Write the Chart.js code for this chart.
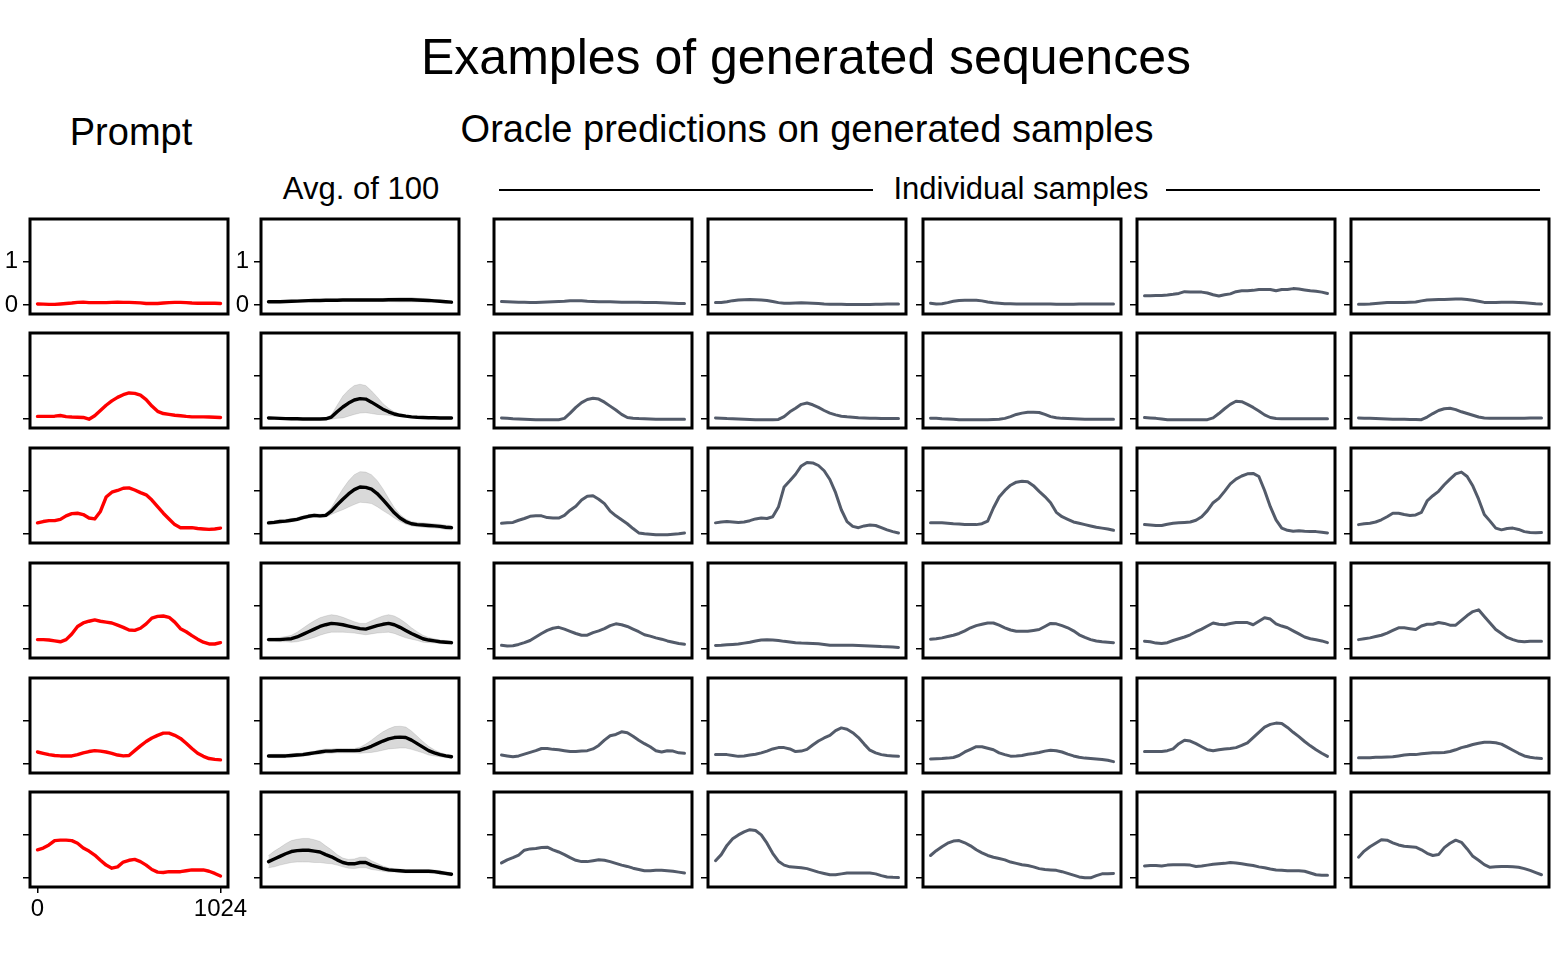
<!DOCTYPE html>
<html>
<head>
<meta charset="utf-8">
<title>Examples of generated sequences</title>
<script src="https://cdn.jsdelivr.net/npm/chart.js@4.4.1/dist/chart.umd.min.js"></script>
<style>
    body { margin: 0; background: #fff; width: 1568px; height: 956px; position: relative; overflow: hidden;
           font-family: "Liberation Sans", Arial, Helvetica, sans-serif; color: #000; }
    .txt { position: absolute; transform: translate(-50%, -50%); line-height: 1; white-space: nowrap; }
    .rule { position: absolute; height: 0; border-top: 2px solid #000; }
    canvas { position: absolute; }
</style>
</head>
<body>
<div class="txt" style="left:806px; top:57px; font-size:50px;">Examples of generated sequences</div>
<div class="txt" style="left:131px; top:132px; font-size:38px;">Prompt</div>
<div class="txt" style="left:807px; top:129px; font-size:38px;">Oracle predictions on generated samples</div>
<div class="txt" style="left:361px; top:188px; font-size:31px;">Avg. of 100</div>
<div class="txt" style="left:1021px; top:188px; font-size:31px;">Individual samples</div>
<div class="rule" style="left:499px; top:189px; width:374px;"></div>
<div class="rule" style="left:1166px; top:189px; width:374px;"></div>

<script>
// sequence positions (shared by every panel)
const positions = [0, 32, 64, 96, 128, 160, 192, 224, 256, 288, 320, 352, 384, 416, 448, 480, 512,
                   544, 576, 608, 640, 672, 704, 736, 768, 800, 832, 864, 896, 928, 960, 992, 1024];
const yTicks = [0, 1];
const xTicks = [0, 1024];

// Row 1
const row1Prompt = [0.03,0.025,0.02,0.02,0.03,0.04,0.05,0.065,0.07,0.06,0.06,0.06,0.06,0.065,0.07,0.065,0.065,0.06,0.055,0.04,0.04,0.04,0.05,0.06,0.065,0.065,0.06,0.05,0.045,0.045,0.045,0.045,0.04];
const row1Avg = [0.08,0.08,0.08,0.085,0.09,0.095,0.1,0.105,0.11,0.11,0.115,0.115,0.115,0.12,0.12,0.12,0.12,0.12,0.12,0.12,0.12,0.125,0.125,0.125,0.125,0.125,0.12,0.115,0.11,0.1,0.09,0.08,0.07];
const row1Spread = [0.02,0.02,0.02,0.02,0.02,0.02,0.025,0.025,0.025,0.025,0.025,0.025,0.025,0.025,0.025,0.025,0.03,0.03,0.03,0.03,0.035,0.04,0.045,0.05,0.05,0.05,0.045,0.04,0.035,0.03,0.025,0.02,0.02];
const row1Samples = [
    [0.085,0.08,0.075,0.07,0.07,0.065,0.065,0.07,0.075,0.08,0.085,0.09,0.1,0.105,0.1,0.09,0.085,0.08,0.08,0.08,0.075,0.07,0.07,0.07,0.07,0.065,0.065,0.06,0.055,0.05,0.045,0.04,0.04],
    [0.06,0.065,0.08,0.105,0.12,0.125,0.13,0.125,0.12,0.11,0.085,0.06,0.045,0.045,0.05,0.055,0.05,0.045,0.04,0.03,0.025,0.02,0.02,0.015,0.015,0.015,0.015,0.015,0.02,0.025,0.03,0.03,0.03],
    [0.045,0.03,0.035,0.06,0.09,0.11,0.115,0.115,0.115,0.1,0.075,0.055,0.045,0.035,0.035,0.03,0.03,0.03,0.03,0.03,0.03,0.03,0.025,0.025,0.025,0.025,0.03,0.03,0.03,0.03,0.03,0.03,0.03],
    [0.215,0.215,0.22,0.225,0.235,0.25,0.27,0.31,0.3,0.3,0.3,0.28,0.24,0.21,0.24,0.26,0.31,0.33,0.33,0.34,0.36,0.36,0.36,0.33,0.36,0.36,0.38,0.37,0.35,0.33,0.32,0.3,0.27],
    [0.02,0.025,0.03,0.04,0.05,0.06,0.065,0.065,0.065,0.07,0.075,0.1,0.12,0.125,0.13,0.13,0.135,0.14,0.14,0.13,0.115,0.09,0.065,0.06,0.065,0.07,0.07,0.07,0.065,0.055,0.045,0.035,0.03]
];

// Row 2
const row2Prompt = [0.065,0.065,0.065,0.07,0.085,0.06,0.05,0.045,0.04,0.0,0.08,0.2,0.32,0.42,0.5,0.56,0.6,0.59,0.55,0.45,0.3,0.18,0.13,0.11,0.09,0.08,0.065,0.055,0.055,0.055,0.05,0.045,0.04];
const row2Avg = [0.03,0.025,0.02,0.015,0.01,0.01,0.005,0.005,0.005,0.005,0.01,0.05,0.17,0.28,0.37,0.44,0.47,0.46,0.39,0.31,0.23,0.17,0.12,0.09,0.07,0.055,0.045,0.04,0.035,0.035,0.03,0.03,0.03];
const row2Spread = [0.015,0.015,0.015,0.015,0.015,0.015,0.015,0.015,0.015,0.015,0.02,0.05,0.15,0.25,0.3,0.33,0.33,0.31,0.26,0.2,0.13,0.08,0.05,0.03,0.02,0.015,0.015,0.015,0.015,0.015,0.015,0.015,0.015];
const row2Samples = [
    [0.03,0.02,0.01,0.005,0.0,-0.005,-0.01,-0.01,-0.01,-0.01,-0.01,0.02,0.14,0.27,0.38,0.45,0.48,0.46,0.39,0.3,0.21,0.11,0.04,0.025,0.015,0.01,0.005,0.0,0.0,0.0,0.0,0.0,0.0],
    [0.03,0.025,0.015,0.01,0.005,0.0,-0.005,-0.01,-0.01,-0.01,-0.01,-0.005,0.06,0.17,0.25,0.34,0.37,0.33,0.27,0.2,0.14,0.1,0.07,0.055,0.045,0.035,0.03,0.025,0.02,0.015,0.015,0.015,0.015],
    [0.025,0.02,0.01,0.005,0.0,-0.01,-0.01,-0.01,-0.01,-0.01,-0.01,-0.005,0.0,0.02,0.06,0.11,0.14,0.16,0.16,0.155,0.11,0.06,0.035,0.02,0.015,0.01,0.005,0.0,0.0,0.0,0.0,0.0,0.0],
    [0.04,0.03,0.02,0.005,-0.01,-0.01,-0.01,-0.01,-0.01,-0.01,-0.01,-0.01,0.03,0.13,0.24,0.34,0.41,0.4,0.34,0.27,0.19,0.1,0.04,0.015,0.01,0.01,0.01,0.01,0.01,0.01,0.01,0.01,0.01],
    [0.03,0.025,0.02,0.015,0.01,0.005,0.0,0.0,0.0,-0.005,-0.005,-0.01,0.05,0.13,0.2,0.24,0.25,0.22,0.17,0.13,0.09,0.05,0.03,0.02,0.02,0.02,0.02,0.02,0.025,0.025,0.03,0.03,0.03]
];

// Row 3
const row3Prompt = [0.26,0.29,0.31,0.31,0.34,0.42,0.47,0.48,0.45,0.37,0.35,0.52,0.85,0.96,1.0,1.05,1.06,1.01,0.95,0.9,0.78,0.63,0.48,0.35,0.22,0.15,0.15,0.15,0.13,0.12,0.11,0.12,0.14];
const row3Avg = [0.26,0.27,0.29,0.3,0.32,0.34,0.38,0.41,0.43,0.42,0.43,0.53,0.67,0.8,0.92,1.02,1.08,1.07,1.03,0.93,0.79,0.64,0.49,0.37,0.29,0.24,0.22,0.21,0.2,0.19,0.18,0.16,0.15];
const row3Spread = [0.04,0.04,0.04,0.04,0.04,0.04,0.04,0.04,0.04,0.04,0.04,0.08,0.16,0.24,0.3,0.34,0.35,0.35,0.33,0.3,0.25,0.18,0.12,0.08,0.06,0.05,0.05,0.05,0.05,0.05,0.05,0.05,0.05];
const row3Samples = [
    [0.25,0.26,0.27,0.32,0.36,0.41,0.42,0.42,0.38,0.37,0.37,0.43,0.55,0.64,0.78,0.87,0.88,0.8,0.7,0.53,0.42,0.33,0.24,0.13,0.03,0.01,0.0,-0.01,-0.01,-0.01,0.0,0.01,0.03],
    [0.26,0.28,0.29,0.28,0.27,0.28,0.31,0.35,0.37,0.36,0.4,0.62,1.08,1.22,1.37,1.56,1.64,1.63,1.57,1.45,1.25,0.95,0.56,0.29,0.18,0.15,0.19,0.21,0.2,0.15,0.1,0.06,0.03],
    [0.26,0.26,0.26,0.25,0.24,0.235,0.22,0.22,0.22,0.24,0.3,0.6,0.85,1.0,1.12,1.19,1.21,1.2,1.11,0.98,0.86,0.72,0.5,0.4,0.34,0.28,0.25,0.22,0.19,0.16,0.14,0.12,0.09],
    [0.22,0.21,0.2,0.2,0.23,0.25,0.26,0.27,0.28,0.32,0.4,0.54,0.72,0.82,0.98,1.15,1.26,1.33,1.38,1.39,1.32,1.0,0.63,0.33,0.14,0.09,0.07,0.08,0.07,0.065,0.06,0.045,0.03],
    [0.22,0.24,0.25,0.28,0.33,0.4,0.48,0.48,0.45,0.43,0.44,0.5,0.76,0.88,0.98,1.13,1.26,1.38,1.42,1.32,1.1,0.8,0.45,0.3,0.14,0.1,0.13,0.14,0.11,0.06,0.04,0.035,0.04]
];

// Row 4
const row4Prompt = [0.22,0.22,0.21,0.19,0.17,0.22,0.35,0.52,0.6,0.64,0.67,0.64,0.62,0.6,0.55,0.5,0.44,0.43,0.48,0.58,0.71,0.75,0.76,0.73,0.62,0.47,0.4,0.31,0.23,0.16,0.12,0.12,0.15];
const row4Avg = [0.22,0.22,0.22,0.23,0.24,0.28,0.34,0.4,0.46,0.52,0.56,0.59,0.58,0.56,0.53,0.5,0.47,0.46,0.5,0.54,0.57,0.59,0.56,0.5,0.43,0.36,0.3,0.24,0.21,0.19,0.17,0.16,0.15];
const row4Spread = [0.04,0.04,0.05,0.06,0.08,0.11,0.14,0.17,0.19,0.2,0.2,0.2,0.19,0.17,0.15,0.13,0.12,0.13,0.15,0.17,0.19,0.2,0.2,0.19,0.17,0.13,0.1,0.08,0.06,0.05,0.04,0.04,0.04];
const row4Samples = [
    [0.09,0.075,0.08,0.11,0.15,0.2,0.28,0.36,0.43,0.48,0.5,0.46,0.41,0.36,0.32,0.32,0.38,0.42,0.47,0.54,0.58,0.56,0.52,0.46,0.4,0.33,0.3,0.26,0.23,0.19,0.16,0.13,0.115],
    [0.085,0.09,0.1,0.11,0.12,0.14,0.16,0.19,0.21,0.215,0.21,0.2,0.18,0.165,0.15,0.14,0.135,0.13,0.125,0.11,0.09,0.09,0.09,0.09,0.09,0.085,0.08,0.075,0.07,0.06,0.055,0.05,0.04],
    [0.23,0.24,0.26,0.29,0.32,0.36,0.42,0.49,0.54,0.57,0.6,0.6,0.55,0.49,0.44,0.41,0.41,0.41,0.43,0.45,0.52,0.59,0.58,0.54,0.49,0.42,0.33,0.27,0.22,0.19,0.17,0.16,0.15],
    [0.185,0.17,0.14,0.13,0.15,0.2,0.24,0.28,0.33,0.4,0.46,0.53,0.6,0.57,0.56,0.59,0.61,0.61,0.61,0.56,0.64,0.72,0.69,0.58,0.53,0.49,0.42,0.35,0.28,0.24,0.215,0.19,0.15],
    [0.22,0.24,0.26,0.29,0.32,0.37,0.43,0.49,0.49,0.47,0.45,0.53,0.57,0.57,0.61,0.59,0.55,0.55,0.66,0.77,0.86,0.9,0.75,0.6,0.45,0.36,0.27,0.22,0.18,0.17,0.18,0.18,0.18]
];

// Row 5
const row5Prompt = [0.28,0.25,0.22,0.2,0.19,0.19,0.19,0.22,0.26,0.29,0.31,0.3,0.28,0.25,0.21,0.19,0.2,0.31,0.42,0.52,0.6,0.66,0.71,0.71,0.66,0.59,0.48,0.36,0.25,0.18,0.13,0.11,0.1];
const row5Avg = [0.19,0.19,0.19,0.19,0.2,0.21,0.22,0.24,0.26,0.28,0.3,0.3,0.31,0.31,0.31,0.31,0.32,0.36,0.41,0.47,0.53,0.58,0.61,0.62,0.61,0.55,0.47,0.39,0.31,0.26,0.22,0.19,0.17];
const row5Spread = [0.03,0.04,0.04,0.04,0.04,0.04,0.04,0.04,0.04,0.05,0.05,0.05,0.05,0.05,0.05,0.05,0.07,0.1,0.14,0.18,0.21,0.23,0.25,0.25,0.24,0.21,0.17,0.13,0.1,0.07,0.05,0.04,0.04];
const row5Samples = [
    [0.21,0.19,0.17,0.19,0.23,0.27,0.31,0.36,0.36,0.34,0.33,0.31,0.29,0.29,0.3,0.31,0.35,0.43,0.55,0.65,0.68,0.74,0.72,0.64,0.55,0.47,0.4,0.31,0.28,0.31,0.3,0.26,0.25],
    [0.22,0.22,0.22,0.2,0.18,0.19,0.21,0.23,0.26,0.3,0.35,0.38,0.38,0.35,0.29,0.3,0.34,0.44,0.53,0.6,0.66,0.77,0.83,0.8,0.72,0.61,0.46,0.32,0.26,0.22,0.2,0.19,0.18],
    [0.12,0.125,0.13,0.14,0.155,0.2,0.28,0.34,0.4,0.4,0.365,0.33,0.26,0.22,0.185,0.19,0.2,0.23,0.245,0.27,0.3,0.32,0.31,0.28,0.23,0.19,0.16,0.14,0.13,0.12,0.11,0.09,0.06],
    [0.29,0.29,0.29,0.29,0.31,0.35,0.47,0.55,0.53,0.47,0.4,0.33,0.31,0.33,0.35,0.36,0.38,0.43,0.49,0.61,0.73,0.85,0.91,0.94,0.93,0.84,0.73,0.63,0.52,0.42,0.33,0.25,0.18],
    [0.15,0.15,0.15,0.16,0.16,0.165,0.17,0.19,0.21,0.22,0.22,0.24,0.25,0.26,0.265,0.27,0.29,0.33,0.38,0.41,0.45,0.48,0.5,0.5,0.49,0.46,0.39,0.32,0.25,0.19,0.16,0.14,0.13]
];

// Row 6
const row6Prompt = [0.65,0.69,0.76,0.86,0.87,0.87,0.86,0.8,0.69,0.62,0.53,0.41,0.3,0.23,0.26,0.37,0.41,0.43,0.38,0.3,0.2,0.14,0.13,0.15,0.15,0.15,0.17,0.19,0.19,0.19,0.16,0.11,0.05];
const row6Avg = [0.38,0.44,0.5,0.56,0.61,0.63,0.64,0.64,0.62,0.6,0.54,0.49,0.42,0.36,0.33,0.33,0.36,0.36,0.3,0.26,0.22,0.19,0.18,0.17,0.16,0.16,0.16,0.16,0.16,0.15,0.13,0.11,0.09];
const row6Spread = [0.14,0.18,0.2,0.23,0.25,0.26,0.27,0.27,0.26,0.24,0.2,0.16,0.12,0.1,0.1,0.11,0.12,0.12,0.1,0.08,0.06,0.05,0.04,0.04,0.04,0.04,0.04,0.04,0.04,0.04,0.04,0.04,0.04];
const row6Samples = [
    [0.35,0.42,0.47,0.53,0.64,0.67,0.68,0.7,0.71,0.65,0.6,0.54,0.47,0.41,0.38,0.38,0.4,0.42,0.41,0.38,0.34,0.3,0.27,0.23,0.2,0.17,0.17,0.18,0.18,0.17,0.16,0.14,0.12],
    [0.4,0.54,0.75,0.9,0.99,1.06,1.11,1.09,0.99,0.8,0.57,0.39,0.3,0.26,0.25,0.24,0.22,0.18,0.14,0.11,0.08,0.08,0.1,0.12,0.12,0.12,0.12,0.12,0.1,0.06,0.03,0.02,0.015],
    [0.52,0.63,0.72,0.8,0.85,0.86,0.81,0.74,0.65,0.58,0.52,0.48,0.45,0.42,0.37,0.34,0.31,0.29,0.26,0.22,0.2,0.19,0.18,0.15,0.11,0.07,0.03,0.01,0.01,0.06,0.1,0.105,0.11],
    [0.28,0.29,0.29,0.28,0.3,0.31,0.31,0.31,0.3,0.27,0.28,0.3,0.32,0.33,0.34,0.36,0.35,0.33,0.31,0.29,0.26,0.24,0.21,0.19,0.18,0.17,0.17,0.17,0.16,0.12,0.08,0.07,0.07],
    [0.48,0.62,0.72,0.8,0.88,0.87,0.81,0.76,0.73,0.72,0.71,0.65,0.57,0.52,0.54,0.7,0.8,0.87,0.82,0.67,0.5,0.41,0.31,0.25,0.26,0.27,0.27,0.26,0.25,0.22,0.18,0.13,0.08]
];

const prompts = [row1Prompt, row2Prompt, row3Prompt, row4Prompt, row5Prompt, row6Prompt];
const avgs = [row1Avg, row2Avg, row3Avg, row4Avg, row5Avg, row6Avg];
const spreads = [row1Spread, row2Spread, row3Spread, row4Spread, row5Spread, row6Spread];
const samples = [row1Samples, row2Samples, row3Samples, row4Samples, row5Samples, row6Samples];

// Panel grid layout (page pixels)
const colLefts = [30, 261, 494, 708, 923, 1137, 1351];
const rowTops = [219, 333, 448, 563, 678, 792];
const panelW = 198, panelH = 95;
const padL = 40, padT = 6, padR = 30, padB = 40;
const tickFont = { family: '"Liberation Sans", Arial, sans-serif', size: 24 };

const toPoints = (values) => values.map((v, i) => ({ x: positions[i], y: v }));

// Black frame around the plotting area
const frame = {
    id: 'frame',
    afterDraw(chart) {
        const { ctx, chartArea: a } = chart;
        ctx.save();
        ctx.strokeStyle = '#000';
        ctx.lineWidth = 3;
        ctx.strokeRect(a.left, a.top, a.right - a.left, a.bottom - a.top);
        ctx.restore();
    }
};

function makePanel(row, col, datasets, showYLabels, showX) {
    const canvas = document.createElement('canvas');
    canvas.width = panelW + padL + padR;
    canvas.height = panelH + padT + padB;
    canvas.style.left = (colLefts[col] - padL) + 'px';
    canvas.style.top = (rowTops[row] - padT) + 'px';
    canvas.style.width = canvas.width + 'px';
    canvas.style.height = canvas.height + 'px';
    document.body.appendChild(canvas);

    new Chart(canvas, {
        type: 'line',
        data: { datasets },
        options: {
            responsive: false,
            animation: false,
            events: [],
            layout: { padding: { left: 0, top: padT, right: padR, bottom: 0 } },
            plugins: { legend: { display: false }, tooltip: { enabled: false } },
            elements: { point: { radius: 0 }, line: { tension: 0, borderJoinStyle: 'round', borderCapStyle: 'round' } },
            scales: {
                x: {
                    type: 'linear', min: -42, max: 1066,
                    afterBuildTicks: (s) => { s.ticks = xTicks.map(v => ({ value: v })); },
                    afterFit: (s) => { s.height = padB; s.paddingLeft = 0; s.paddingRight = 0; },
                    border: { display: false },
                    grid: { display: showX, drawOnChartArea: false, tickLength: 6, color: '#000', lineWidth: 1.5 },
                    ticks: { display: showX, font: tickFont, color: '#000', padding: 2, maxRotation: 0, autoSkip: false,
                             callback: (v) => String(v) }
                },
                y: {
                    type: 'linear', min: -0.2, max: 1.97,
                    afterBuildTicks: (s) => { s.ticks = yTicks.map(v => ({ value: v })); },
                    afterFit: (s) => { s.width = padL; s.paddingTop = 0; s.paddingBottom = 0; },
                    border: { display: false },
                    grid: { display: true, drawOnChartArea: false, tickLength: 7, color: '#000', lineWidth: 1.5 },
                    ticks: { display: showYLabels, font: tickFont, color: '#000', padding: 5,
                             callback: (v) => String(v) }
                }
            }
        },
        plugins: [frame]
    });
}

for (let r = 0; r < 6; r++) {
    // Prompt
    makePanel(r, 0, [{
        data: toPoints(prompts[r]), borderColor: '#ff0000', borderWidth: 3.4
    }], r === 0, r === 5);

    // Average of 100 with spread band
    const lower = avgs[r].map((v, i) => v - spreads[r][i]);
    const upper = avgs[r].map((v, i) => v + spreads[r][i]);
    makePanel(r, 1, [
        { data: toPoints(avgs[r]), borderColor: '#000', borderWidth: 3.4 },
        { data: toPoints(lower), borderColor: 'rgba(0,0,0,0.10)', borderWidth: 1, fill: false },
        { data: toPoints(upper), borderColor: 'rgba(0,0,0,0.10)', borderWidth: 1, fill: '-1',
          backgroundColor: 'rgba(0,0,0,0.15)' }
    ], r === 0, false);

    // Individual samples
    samples[r].forEach((seq, k) => {
        makePanel(r, k + 2, [{
            data: toPoints(seq), borderColor: '#535b6a', borderWidth: 3
        }], false, false);
    });
}
</script>
</body>
</html>
